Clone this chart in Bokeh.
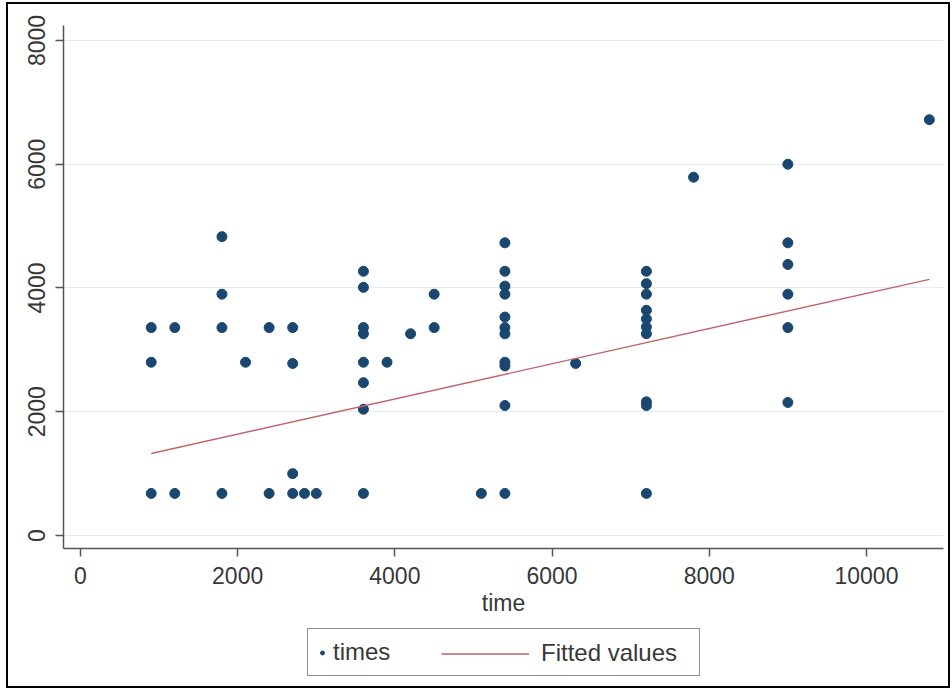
from bokeh.plotting import figure
from bokeh.models import Legend, LegendItem, Range1d, FixedTicker
from bokeh.layouts import column
from bokeh.embed import file_html
from bokeh.resources import INLINE

# ---- data ----
time_vals = [900, 900, 900,
             1200, 1200,
             1800, 1800, 1800, 1800,
             2100,
             2400, 2400,
             2700, 2700, 2700, 2700,
             2850, 3000,
             3600, 3600, 3600, 3600, 3600, 3600, 3600, 3600,
             3900, 4200, 4500, 4500,
             5100,
             5400, 5400, 5400, 5400, 5400, 5400, 5400, 5400, 5400, 5400, 5400,
             6300,
             7200, 7200, 7200, 7200, 7200, 7200, 7200, 7200, 7200, 7200,
             7800,
             9000, 9000, 9000, 9000, 9000, 9000,
             10800]
times_vals = [680, 2800, 3360,
              680, 3360,
              680, 3360, 3900, 4830,
              2800,
              680, 3360,
              680, 1000, 2780, 3360,
              680, 680,
              680, 2040, 2470, 2800, 3260, 3360, 4010, 4270,
              2800, 3260, 3360, 3900,
              680,
              680, 2100, 2740, 2800, 3260, 3360, 3530, 3900, 4030, 4270, 4730,
              2780,
              680, 2100, 2160, 3260, 3370, 3500, 3640, 3900, 4070, 4270,
              5790,
              2150, 3360, 3900, 4380, 4730, 6000,
              6720]
fit_time = [900, 10800]
fit_vals = [1325, 4140]
x_ticks = [0, 2000, 4000, 6000, 8000, 10000]
y_ticks = [0, 2000, 4000, 6000, 8000]
x_title = "time"
series_names = ["times", "Fitted values"]

FONT = "Liberation Sans"
TXT = "#383838"
FS = "23px"
LFS = "24px"
PT_COLOR = "#1a476f"
FIT_COLOR = "#c0646d"

# ---- main plot ----
p = figure(width=940, height=620, output_backend="svg", toolbar_location=None,
           x_range=Range1d(-216, 10980), y_range=Range1d(-210, 8242),
           min_border_left=55, min_border_right=5, min_border_top=21,
           min_border_bottom=76)
p.background_fill_color = "white"
p.border_fill_color = "white"
p.outline_line_color = None

r_pts = p.scatter(time_vals, times_vals, size=10, color=PT_COLOR, line_color=PT_COLOR)
r_fit = p.line(fit_time, fit_vals, line_color=FIT_COLOR, line_width=1.4)

for ax in (p.xaxis[0], p.yaxis[0]):
    ax.axis_line_color = "#555555"
    ax.axis_line_width = 1.5
    ax.major_tick_line_color = "#555555"
    ax.major_tick_line_width = 1.5
    ax.major_tick_out = 8
    ax.major_tick_in = 0
    ax.minor_tick_line_color = None
    ax.major_label_text_font = FONT
    ax.major_label_text_font_size = FS
    ax.major_label_text_color = TXT

p.xaxis.ticker = FixedTicker(ticks=x_ticks)
p.yaxis.ticker = FixedTicker(ticks=y_ticks)
p.yaxis.major_label_orientation = "vertical"
p.yaxis.major_label_standoff = 10
p.xaxis.major_label_standoff = 10
p.xaxis.axis_label = x_title
p.xaxis.axis_label_text_font = FONT
p.xaxis.axis_label_text_font_size = FS
p.xaxis.axis_label_text_font_style = "normal"
p.xaxis.axis_label_text_color = TXT
p.xaxis.axis_label_standoff = 3

p.xgrid.visible = False
p.ygrid.ticker = FixedTicker(ticks=y_ticks)
p.ygrid.grid_line_color = "#e4ecef"
p.ygrid.grid_line_width = 1

# ---- legend strip below (its frame is aligned with the main frame) ----
pl = figure(width=940, height=62, output_backend="svg", toolbar_location=None,
            x_range=Range1d(0, 1), y_range=Range1d(0, 1),
            x_axis_type=None, y_axis_type=None,
            min_border_left=0, min_border_right=0, min_border_top=0, min_border_bottom=0)
pl.grid.visible = False
pl.outline_line_color = None
pl.background_fill_color = "white"
pl.border_fill_color = "white"
# same series, drawn outside this strip's ranges: only their legend samples show
leg_pts = pl.scatter(time_vals, times_vals, size=10, color=PT_COLOR, line_color=PT_COLOR)
leg_fit = pl.line(fit_time, fit_vals, line_color=FIT_COLOR, line_width=1.4)

legA = Legend(items=[LegendItem(label=series_names[0], renderers=[leg_pts])],
              location=(244, 10), orientation="horizontal",
              glyph_width=10, glyph_height=23, label_height=23, label_width=357,
              label_standoff=6, padding=9, margin=0,
              label_text_font=FONT, label_text_font_size=LFS, label_text_color=TXT,
              border_line_color="#222222", border_line_width=1.5,
              background_fill_color="white", background_fill_alpha=1.0)
legB = Legend(items=[LegendItem(label=series_names[1], renderers=[leg_fit])],
              location=(378, 19), orientation="horizontal",
              glyph_width=88, glyph_height=23, label_height=23,
              label_standoff=12, padding=0, margin=0,
              label_text_font=FONT, label_text_font_size=LFS, label_text_color=TXT,
              border_line_color=None, background_fill_alpha=0.0)
pl.add_layout(legA)
pl.add_layout(legB)

layout = column(p, pl, spacing=0,
                styles={"margin-left": "6px", "margin-top": "2px",
                        "border": "2px solid #000000"})

open("out.html", "w").write(file_html(layout, INLINE))
